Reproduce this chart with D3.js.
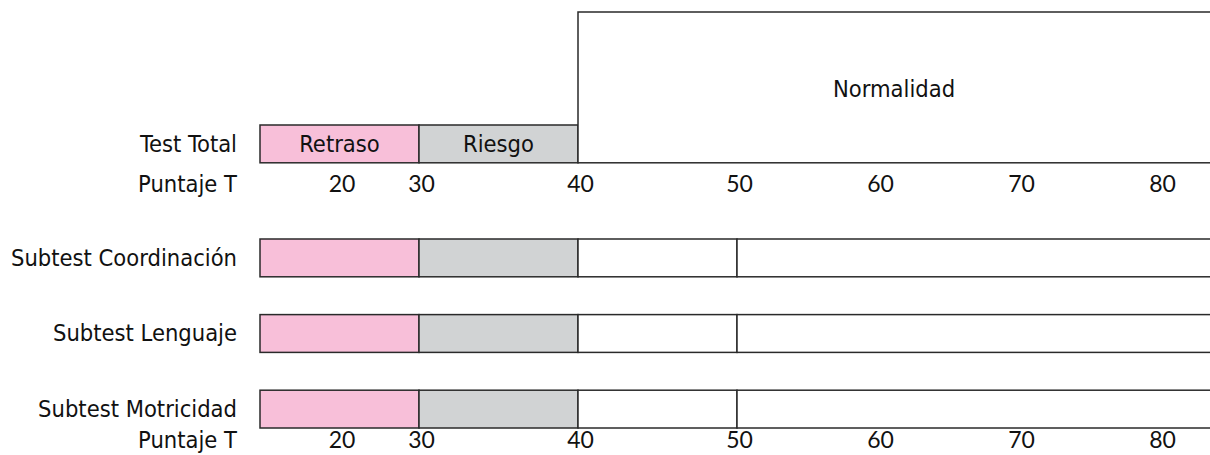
<!DOCTYPE html>
<html>
<head>
<meta charset="utf-8">
<script src="https://cdn.jsdelivr.net/npm/d3@7"></script>
<style>
  body { margin: 0; background: #fff; }
  svg { display: block; }
  .lbl { font-family: "DejaVu Sans Condensed", "DejaVu Sans", sans-serif; font-stretch: condensed; font-size: 23.5px; fill: #111; }
  .num { font-family: Lato, "Open Sans", sans-serif; font-size: 23px; fill: #111; }
</style>
</head>
<body>
<script>
(function() {

    var subtests = ['Subtest Coordinación', 'Subtest Lenguaje', 'Subtest Motricidad']; //rows below the total
    var totalLabel = 'Test Total';
    var axisLabel = 'Puntaje T';

    var totalCuts = [10, 30, 40, 84];       // Retraso | Riesgo | Normalidad
    var totalNames = ['Retraso', 'Riesgo', 'Normalidad'];
    var subtestCuts = [10, 30, 40, 50, 84]; // Retraso | Riesgo | Normal | Normal
    var ticks = [20, 30, 40, 50, 60, 70, 80];

    var fills = ['#f8bfd9', '#d1d3d4', '#ffffff', '#ffffff'];

    var width = 1210, height = 455;

    var svg = d3.select('body').append('svg')
        .attr('width', width)
        .attr('height', height);

    // the T score ruler is not even: the low bands are squeezed
    var x = d3.scaleLinear()
        .domain([10, 30, 40, 50, 80])
        .range([260, 419, 578, 737, 1160]);

    var ySub = d3.scaleBand()
        .domain(subtests)
        .range([239, 428])
        .paddingInner(0.5)
        .paddingOuter(0);

    var rowH = ySub.bandwidth();
    var totalY = 125;   // top of the Test Total boxes
    var normTop = 12;   // top of the tall Normalidad box

    function pairs(cuts) {
        return d3.range(cuts.length - 1).map(function(i) {
            return { i: i, from: cuts[i], to: cuts[i + 1] };
        });
    }

    // Test Total row
    var total = svg.append('g');

    total.selectAll('rect')
        .data(pairs(totalCuts))
        .enter().append('rect')
        .attr('x', function(d) { return x(d.from); })
        .attr('width', function(d) { return x(d.to) - x(d.from); })
        .attr('y', function(d) { return d.i === 2 ? normTop : totalY; })
        .attr('height', function(d) { return d.i === 2 ? totalY + rowH - normTop : rowH; })
        .style('fill', function(d) { return fills[d.i]; })
        .style('stroke', '#2a2a2a')
        .style('stroke-width', 1.5);

    total.selectAll('text')
        .data(pairs(totalCuts))
        .enter().append('text')
        .attr('class', 'lbl')
        .attr('text-anchor', 'middle')
        .attr('x', function(d) { return (x(d.from) + Math.min(x(d.to), width)) / 2; })
        .attr('y', function(d) { return d.i === 2 ? 97 : totalY + rowH / 2 + 8; })
        .text(function(d) { return totalNames[d.i]; });

    svg.append('text')
        .attr('class', 'lbl')
        .attr('text-anchor', 'end')
        .attr('x', 237)
        .attr('y', totalY + rowH / 2 + 8)
        .text(totalLabel);

    // subtest rows
    var rows = svg.selectAll('g.row')
        .data(subtests)
        .enter().append('g')
        .attr('class', 'row')
        .attr('transform', function(d) { return 'translate(0,' + ySub(d) + ')'; });

    rows.selectAll('rect')
        .data(pairs(subtestCuts))
        .enter().append('rect')
        .attr('x', function(d) { return x(d.from); })
        .attr('width', function(d) { return x(d.to) - x(d.from); })
        .attr('height', rowH)
        .style('fill', function(d) { return fills[d.i]; })
        .style('stroke', '#2a2a2a')
        .style('stroke-width', 1.5);

    rows.append('text')
        .attr('class', 'lbl')
        .attr('text-anchor', 'end')
        .attr('x', 237)
        .attr('y', rowH / 2 + 8)
        .text(function(d) { return d; });

    // two rulers: under the total and at the bottom
    [totalY + rowH + 29, ySub(subtests[2]) + rowH + 20].forEach(function(yy) {
        var ax = svg.append('g')
            .attr('transform', 'translate(2,' + yy + ')')
            .call(d3.axisBottom(x).tickValues(ticks).tickSize(0).tickPadding(0));
        ax.select('.domain').remove();
        ax.selectAll('text')
            .attr('class', 'num')
            .attr('dy', 0)
            .attr('y', 0)
            .attr('fill', null);

        svg.append('text')
            .attr('class', 'lbl')
            .attr('text-anchor', 'end')
            .attr('x', 237)
            .attr('y', yy)
            .text(axisLabel);
    });

})();
</script>
</body>
</html>
